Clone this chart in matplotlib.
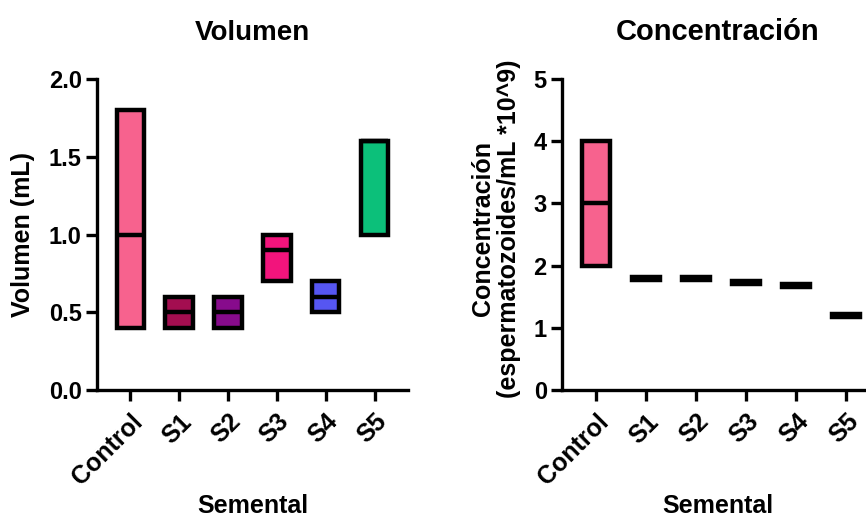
import numpy as np
import matplotlib
matplotlib.use('Agg')
import matplotlib.pyplot as plt

plt.rcParams['font.family'] = ['Liberation Sans', 'DejaVu Sans']
plt.rcParams['font.weight'] = 'bold'

# Datos: barras flotantes (min - max) con linea en la mediana
grupos = ['Control', 'S1', 'S2', 'S3', 'S4', 'S5']
colores = ['#F7628E', '#A30E50', '#870B8C', '#F2147C', '#5656F2', '#0CC07A']

vol_min = [0.4, 0.4, 0.4, 0.7, 0.5, 1.0]
vol_max = [1.8, 0.6, 0.6, 1.0, 0.7, 1.6]
vol_med = [1.0, 0.5, 0.5, 0.9, 0.6, 1.6]

conc_min = [2.0, 1.77, 1.77, 1.71, 1.66, 1.18]
conc_max = [4.0, 1.81, 1.81, 1.75, 1.70, 1.22]
conc_med = [3.0, 1.79, 1.79, 1.73, 1.68, 1.20]

fs = 17

fig = plt.figure(figsize=(8.66, 5.21), dpi=100)
ax1 = fig.add_axes([0.112, 0.2514, 0.359, 0.597])
ax2 = fig.add_axes([0.649, 0.2514, 0.36, 0.597])

def dibujar(ax, mins, maxs, meds, cols, ancho=0.56):
    x = np.arange(len(grupos))
    alturas = np.array(maxs) - np.array(mins)
    ax.bar(x, alturas, bottom=mins, width=ancho, color=cols,
           edgecolor='black', linewidth=3.2, zorder=3)
    ax.hlines(meds, x - ancho / 2, x + ancho / 2, color='black',
              linewidth=3.2, zorder=4)
    ax.set_xticks(x)
    ax.set_xticklabels(grupos, rotation=45, ha='right', rotation_mode='anchor',
                       fontsize=fs + 1, fontweight='bold')
    for s in ['top', 'right']:
        ax.spines[s].set_visible(False)
    for s in ['left', 'bottom']:
        ax.spines[s].set_linewidth(2.4)
    ax.tick_params(axis='both', width=2.4, length=8)
    ax.tick_params(axis='y', pad=3, labelsize=fs)
    ax.tick_params(axis='x', pad=6)
    ax.set_xlabel('Semental', fontsize=fs + 1, fontweight='bold')
    ax.xaxis.set_label_coords(0.5, -0.335)

dibujar(ax1, vol_min, vol_max, vol_med, colores)
ax1.set_xlim(-0.68, 5.68)
ax1.set_ylim(0, 2.0)
ax1.set_yticks([0.0, 0.5, 1.0, 1.5, 2.0])
ax1.set_yticklabels(['0.0', '0.5', '1.0', '1.5', '2.0'], fontweight='bold')
ax1.set_ylabel('Volumen (mL)', fontsize=fs + 1, fontweight='bold')
ax1.yaxis.set_label_coords(-0.198, 0.5)
ax1.set_title('Volumen', fontsize=20, fontweight='bold', pad=28)

cols2 = [colores[0]] + ['black'] * 5
dibujar(ax2, conc_min, conc_max, conc_med, cols2)
ax2.set_xlim(-0.68, 5.55)
ax2.set_ylim(0, 5)
ax2.set_yticks([0, 1, 2, 3, 4, 5])
ax2.set_yticklabels(['0', '1', '2', '3', '4', '5'], fontweight='bold')
ax2.set_ylabel('Concentración\n(espermatozoides/mL *10^9)', fontsize=fs + 1,
               fontweight='bold', linespacing=1.1)
ax2.yaxis.set_label_coords(-0.131, 0.52)
ax2.set_title('Concentración', fontsize=21, fontweight='bold', pad=28)

fig.savefig('out.png', dpi=100)
